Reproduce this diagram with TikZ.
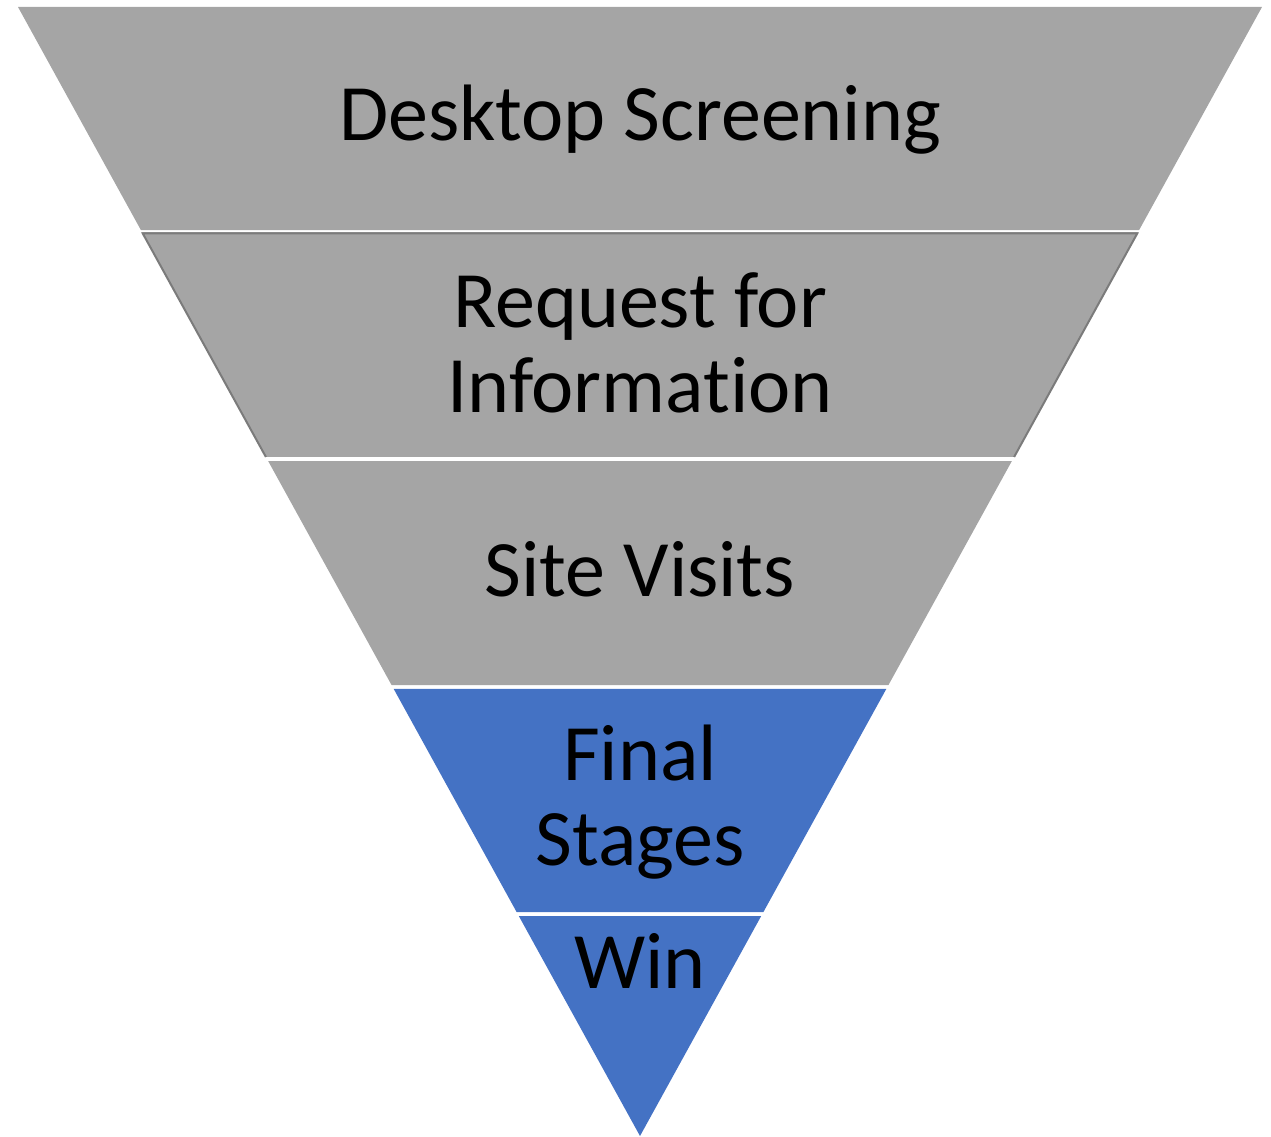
\documentclass[tikz,border=0pt]{standalone}
\usepackage{fontspec}
\setmainfont[Ligatures={NoCommon}]{Carlito}
\usetikzlibrary{calc}
\definecolor{bandgray}{HTML}{A5A5A5}
\definecolor{bandblue}{HTML}{4472C4}
\definecolor{edgegray}{HTML}{7B7B7B}
\tikzset{
  label text/.style={font=\fontsize{80}{85}\selectfont, text=black, align=center, inner sep=0pt, anchor=base},
}
\newcommand\funnelband[3]{%
  \fill[#3] ($(TL)!#1!(A)$) -- ($(TR)!#1!(A)$) -- ($(TR)!#2!(A)$) -- ($(TL)!#2!(A)$) -- cycle;}
\begin{document}
\begin{tikzpicture}[x=1pt,y=-1pt]
\useasboundingbox (0,0) rectangle (1271,1137);
\coordinate (TL) at (18,7);
\coordinate (TR) at (1262,7);
\coordinate (A) at (640,1136);
% bands
\funnelband{0}{0.19752}{bandgray}
\funnelband{0.19929}{0.39858}{bandgray}
\draw[edgegray, line width=2pt, line join=miter]
  ($(TL)!0.39858!(A)$) -- ($(TL)!0.20050!(A)$) -- ($(TR)!0.20050!(A)$) -- ($(TR)!0.39858!(A)$);
\funnelband{0.40213}{0.60053}{bandgray}
\funnelband{0.60407}{0.80159}{bandblue}
\funnelband{0.80514}{1}{bandblue}
% labels (base anchor = baseline of the last line)
\node[label text] (desk) at (640,141) {Desktop Screening};
\node[label text] (rfi) at (640,412) {Request for\\Information};
\node[label text] (site) at (640,596) {Site Visits};
\node[label text] (final) at (640,865) {Final\\Stages};
\node[label text] (win) at (640,988) {Win};
\end{tikzpicture}
\end{document}
